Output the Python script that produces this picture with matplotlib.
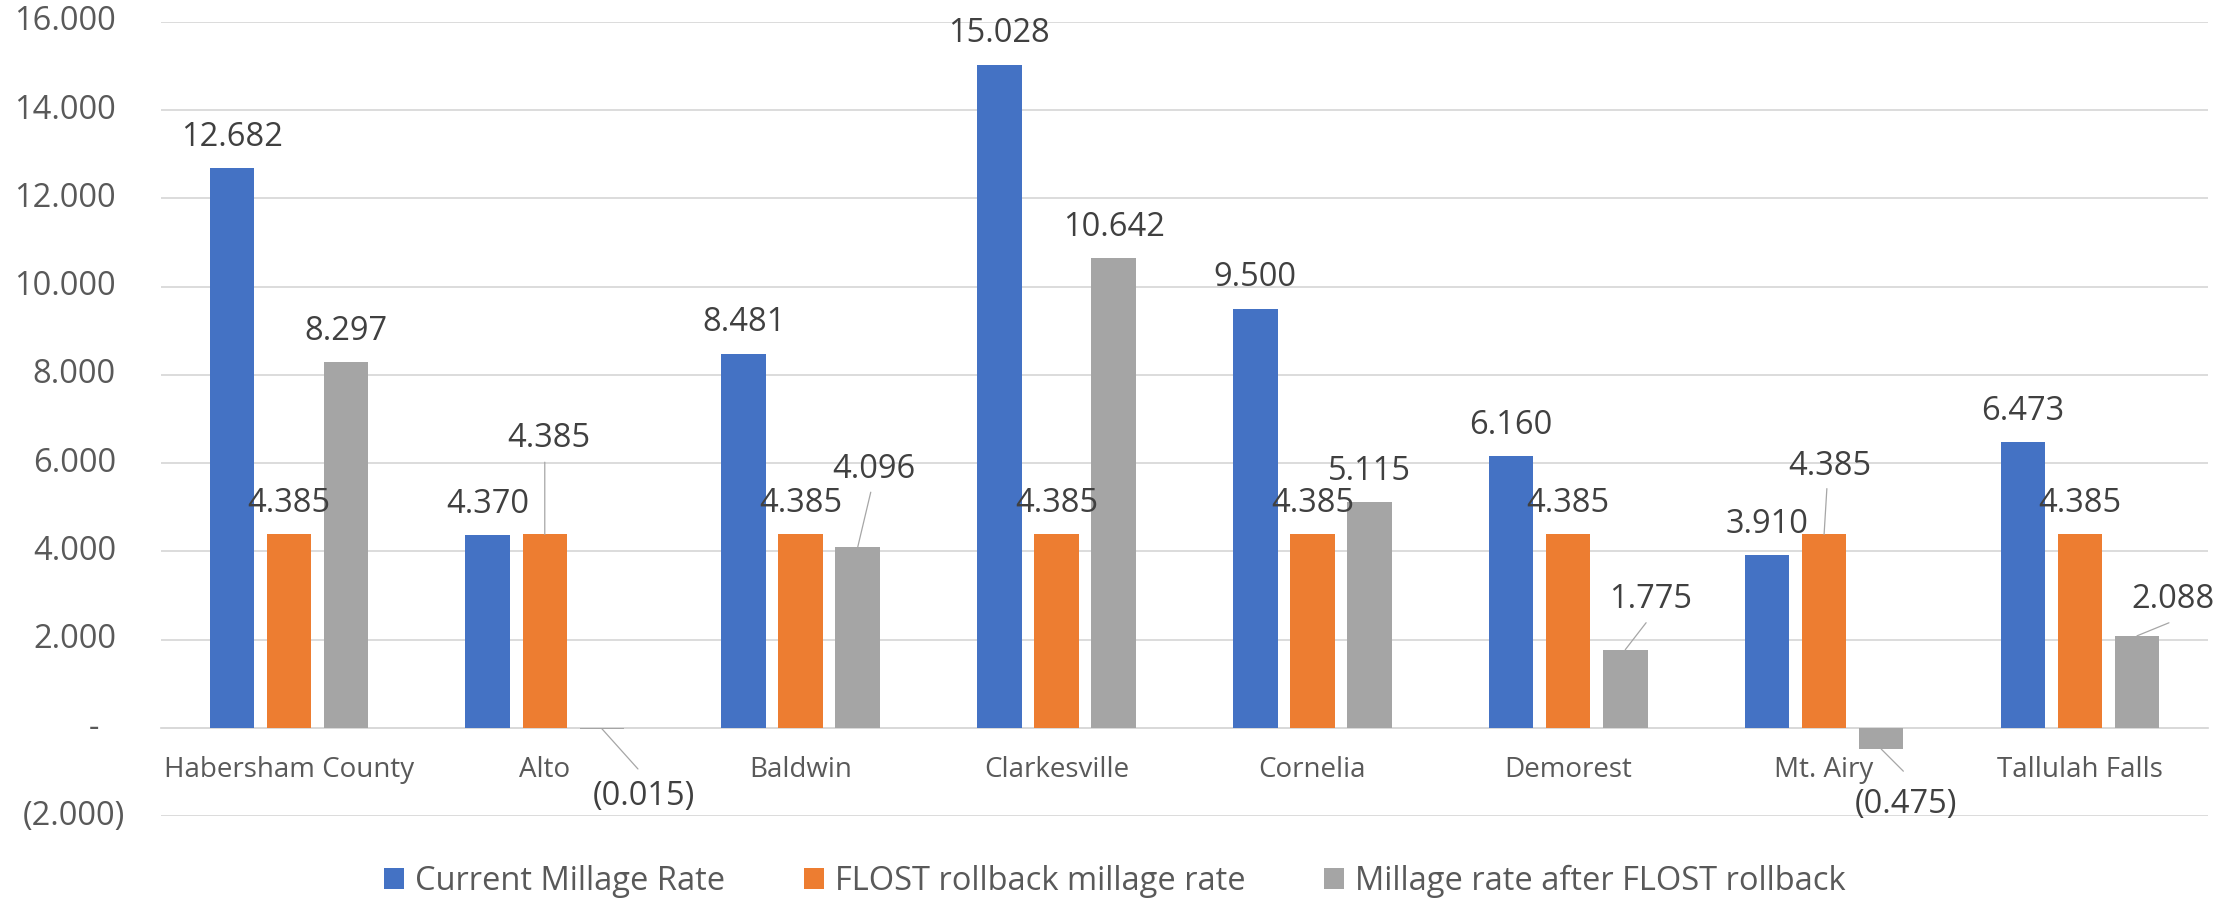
import numpy as np
import matplotlib
matplotlib.use('Agg')
import matplotlib.pyplot as plt

plt.rcParams['font.family'] = ['Open Sans', 'DejaVu Sans']

# data
places = ['Habersham County', 'Alto', 'Baldwin', 'Clarkesville',
          'Cornelia', 'Demorest', 'Mt. Airy', 'Tallulah Falls']
current_rate = [12.682, 4.370, 8.481, 15.028, 9.500, 6.160, 3.910, 6.473]
flost_rate = [4.385, 4.385, 4.385, 4.385, 4.385, 4.385, 4.385, 4.385]
after_rate = [8.297, -0.015, 4.096, 10.642, 5.115, 1.775, -0.475, 2.088]
series_names = ['Current Millage Rate', 'FLOST rollback millage rate',
                'Millage rate after FLOST rollback']
y_ticks = [-2, 0, 2, 4, 6, 8, 10, 12, 14, 16]

colors = ['#4472C4', '#ED7D31', '#A5A5A5']
label_col = '#404040'
tick_col = '#595959'
grid_col = '#D9D9D9'

# labels Excel pushed aside (text offset, leader end offset), in points
moved = {
    (1, 1): ((3, 63), (0, 52)),
    (1, 2): ((30, -55), (26, -29)),
    (2, 2): ((11.5, 50), (9.4, 39.6)),
    (5, 2): ((18, 30), (15, 19.4)),
    (6, 1): ((4.3, 43), (2, 33)),
    (6, 2): ((18, -46), (16, -16)),
    (7, 2): ((26, 20), (23, 9.4)),
}


def fmt(v):
    if v > 0:
        return f'{v:.3f}'
    if v < 0:
        return f'({abs(v):.3f})'
    return '-'


fig = plt.figure(figsize=(22.39, 9.01), dpi=100)
ax = fig.add_axes([0.0719, 0.094, 0.9142, 0.8819])

x = np.arange(len(places))
width = 0.174
offs = [-0.223, 0, 0.223]

for s, vals in enumerate([current_rate, flost_rate, after_rate]):
    ax.bar(x + offs[s], vals, width, color=colors[s], label=series_names[s], zorder=3)
    for i, v in enumerate(vals):
        xb = x[i] + offs[s]
        if (i, s) in moved:
            txt, lead = moved[(i, s)]
            ax.annotate('', xy=(xb, v), xytext=lead, textcoords='offset points',
                        arrowprops=dict(arrowstyle='-', color='#A6A6A6', lw=0.9,
                                        shrinkA=0, shrinkB=0), zorder=4)
            ax.annotate(fmt(v), xy=(xb, v), xytext=txt, textcoords='offset points',
                        ha='center', va='baseline', fontsize=23.5, color=label_col, zorder=5)
        else:
            ax.annotate(fmt(v), xy=(xb, v), xytext=(0, 16), textcoords='offset points',
                        ha='center', va='baseline', fontsize=23.5, color=label_col, zorder=5)

ax.set_xlim(-0.5, len(places) - 0.5)
ax.set_ylim(-2, 16)
ax.set_yticks(y_ticks)
ax.set_yticklabels([])
ax.grid(axis='y', color=grid_col, lw=1.3, zorder=0)
ax.tick_params(axis='y', length=0)

# accounting style tick labels, each with its own padding
for t in y_ticks:
    if t > 0:
        off = -32.4
    elif t == 0:
        off = -44.6
    else:
        off = -26
    ax.annotate(fmt(t), xy=(0, t), xycoords=('axes fraction', 'data'),
                xytext=(off, 0), textcoords='offset points',
                ha='right', va='center', fontsize=23.5, color=tick_col)

for side in ['top', 'right', 'left']:
    ax.spines[side].set_visible(False)
ax.spines['bottom'].set_position(('data', 0))
ax.spines['bottom'].set_color(grid_col)
ax.spines['bottom'].set_linewidth(1.3)
ax.set_xticks(x)
ax.set_xticklabels(places, fontsize=20, color=tick_col)
ax.tick_params(axis='x', length=0, pad=20)

fig.legend(loc='center', bbox_to_anchor=(0.498, 0.022), ncol=3, frameon=False,
           fontsize=23.5, labelcolor=tick_col, handlelength=0.6, handleheight=0.6,
           handletextpad=0.35, columnspacing=2.4)

fig.savefig('out.png', dpi=100)
